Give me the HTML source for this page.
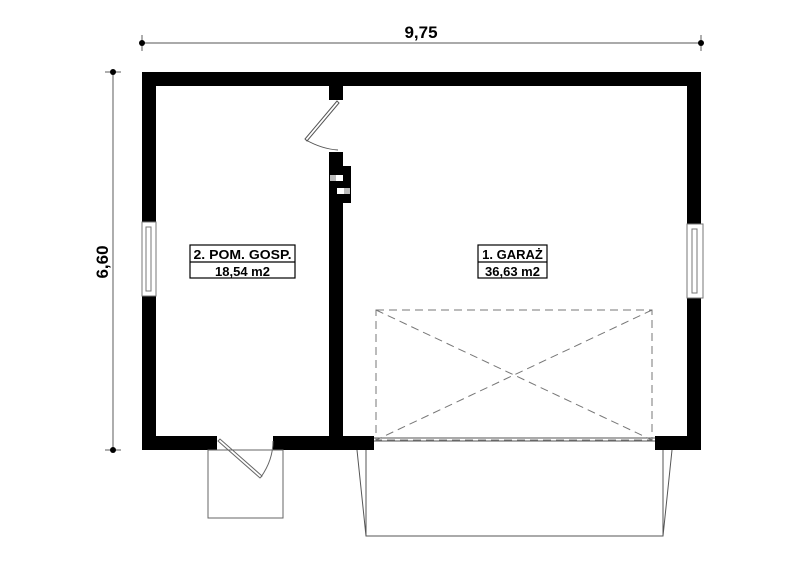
<!DOCTYPE html>
<html><head><meta charset="utf-8"><style>body{margin:0;background:#fff}</style></head><body>
<svg width="800" height="566" viewBox="0 0 800 566" xmlns="http://www.w3.org/2000/svg" font-family="Liberation Sans, sans-serif">
<rect width="800" height="566" fill="#fff"/>
<g stroke="#777" stroke-width="1.2">
<line x1="142" y1="43" x2="701" y2="43"/>
<line x1="142" y1="35" x2="142" y2="51"/><line x1="701" y1="35" x2="701" y2="51"/>
<line x1="113" y1="72" x2="113" y2="450"/>
<line x1="105" y1="72" x2="121" y2="72"/><line x1="105" y1="450" x2="121" y2="450"/>
</g>
<g fill="#000"><circle cx="142" cy="43" r="3"/><circle cx="701" cy="43" r="3"/><circle cx="113" cy="72" r="3"/><circle cx="113" cy="450" r="3"/></g>
<text x="421" y="38" font-size="17" font-weight="bold" text-anchor="middle">9,75</text>
<text x="0" y="0" font-size="17" font-weight="bold" text-anchor="middle" transform="translate(108,262) rotate(-90)">6,60</text>
<g fill="#000">
<rect x="142" y="72" width="559" height="14"/>
<rect x="142" y="72" width="14" height="150"/>
<rect x="142" y="296" width="14" height="154"/>
<rect x="687" y="72" width="14" height="152"/>
<rect x="687" y="298" width="14" height="152"/>
<rect x="142" y="436" width="75" height="14"/>
<rect x="273" y="436" width="101" height="14"/>
<rect x="655" y="436" width="46" height="14"/>
<rect x="329" y="86" width="14" height="14"/>
<rect x="329" y="152" width="14" height="290"/>
<rect x="343" y="166" width="8" height="37"/>
</g>
<g><rect x="330" y="175" width="6" height="6" fill="#bbb"/><rect x="336" y="175" width="7" height="6" fill="#fff"/>
<rect x="337" y="188" width="7" height="6" fill="#fff"/><rect x="344" y="188" width="6" height="6" fill="#bbb"/></g>
<g fill="#fff" stroke="#777" stroke-width="1">
<rect x="142" y="222" width="14" height="74"/><rect x="146" y="227" width="5" height="64"/>
<rect x="687" y="224" width="16" height="74"/><rect x="692" y="229" width="5" height="64"/>
</g>
<g fill="none" stroke="#555" stroke-width="1">
<path d="M337 101 L305 139 L307 141 L339 103 Z"/>
<path d="M306 140 Q322 149 338 150"/>
</g>
<g fill="none" stroke="#666" stroke-width="1">
<rect x="208" y="450" width="75" height="68"/>
<path d="M218 441 L260 478 L262 476 L220 439 Z"/>
<path d="M261 477 Q273 460 273 441"/>
</g>
<g fill="none" stroke="#555" stroke-width="1">
<path d="M357 450 L366 536 L663 536 L672 450"/>
<line x1="366" y1="450" x2="366" y2="536"/>
<line x1="663" y1="450" x2="663" y2="536"/>
<line x1="374" y1="438" x2="655" y2="438"/>
<line x1="374" y1="441" x2="655" y2="441"/>
</g>
<g fill="none" stroke="#777" stroke-width="1" stroke-dasharray="8,5">
<rect x="376" y="310" width="276" height="130"/>
<line x1="376" y1="310" x2="652" y2="440"/>
<line x1="652" y1="310" x2="376" y2="440"/>
</g>
<g fill="#fff" stroke="#000" stroke-width="1.2">
<rect x="190" y="245" width="105" height="33"/><line x1="190" y1="262" x2="295" y2="262"/>
<rect x="478" y="245" width="69" height="33"/><line x1="478" y1="262" x2="547" y2="262"/>
</g>
<g font-size="13" font-weight="bold" text-anchor="middle">
<text x="242.5" y="259" textLength="98" lengthAdjust="spacingAndGlyphs">2. POM. GOSP.</text><text x="242.5" y="276">18,54 m2</text>
<text x="512.5" y="259">1. GARAŻ</text><text x="512.5" y="276">36,63 m2</text>
</g>
</svg>
</body></html>
